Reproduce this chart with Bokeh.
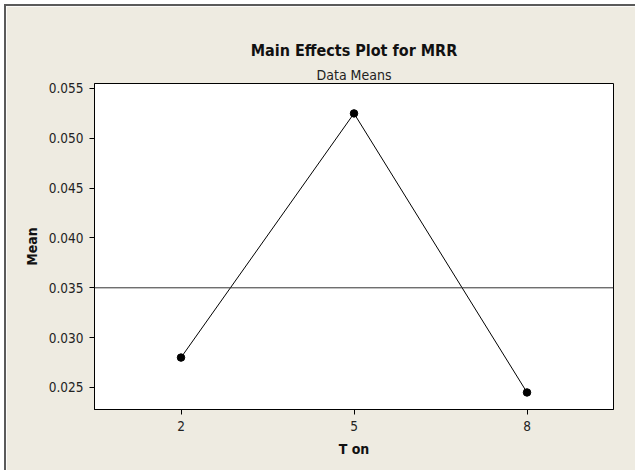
from bokeh.plotting import figure
from bokeh.models import Span, Title, FixedTicker, Range1d
from bokeh.embed import file_html
from bokeh.resources import INLINE

# Data
levels = [2, 5, 8]
means = [0.0280, 0.0525, 0.0245]
grand_mean = 0.035
y_ticks = [0.025, 0.030, 0.035, 0.040, 0.045, 0.050, 0.055]
x_ticks = [2, 5, 8]
title_text = "Main Effects Plot for MRR"
subtitle_text = "Data Means"
x_label = "T on"
y_label = "Mean"

FONT = "DejaVu Sans Condensed"
BG = "#EEEBE1"

p = figure(width=631, height=466,
           x_range=Range1d(0.5, 9.5), y_range=Range1d(0.02279, 0.0555),
           output_backend="svg", toolbar_location=None, title=None,
           min_border_left=88, min_border_top=77, min_border_right=24,
           min_border_bottom=63,
           background_fill_color="white", border_fill_color=BG,
           margin=(4, 0, 0, 4),
           styles={"border-top": "2px solid #5a5a5a",
                   "border-left": "2px solid #5a5a5a"})

p.xgrid.visible = False
p.ygrid.visible = False
p.outline_line_color = "black"
p.outline_line_width = 1

sub = Title(text=subtitle_text, align="center", text_font=FONT,
            text_font_size="14px", text_font_style="normal",
            text_color="#222222", standoff=2)
main = Title(text=title_text, align="center", text_font=FONT,
             text_font_size="16px", text_font_style="bold",
             text_color="#111111", standoff=7)
p.add_layout(sub, "above")
p.add_layout(main, "above")

for ax in (p.xaxis[0], p.yaxis[0]):
    ax.major_tick_in = 0
    ax.major_tick_out = 5
    ax.minor_tick_line_color = None
    ax.axis_line_color = "black"
    ax.major_tick_line_color = "black"
    ax.major_label_text_font = FONT
    ax.major_label_text_font_size = "13.5px"
    ax.major_label_text_color = "#222222"
    ax.axis_label_text_font = FONT
    ax.axis_label_text_font_size = "14px"
    ax.axis_label_text_font_style = "bold"
    ax.axis_label_text_color = "#111111"

p.xaxis.ticker = FixedTicker(ticks=x_ticks)
p.yaxis.ticker = FixedTicker(ticks=y_ticks)
p.yaxis.major_label_overrides = {t: f"{t:.3f}" for t in y_ticks}
p.xaxis.axis_label = x_label
p.yaxis.axis_label = y_label
p.xaxis.major_label_standoff = 6
p.yaxis.major_label_standoff = 6
p.xaxis.axis_label_standoff = 7
p.yaxis.axis_label_standoff = 6

p.add_layout(Span(location=grand_mean, dimension="width",
                  line_color="#333333", line_width=1))

p.line(levels, means, line_color="black", line_width=1)
p.scatter(levels, means, size=7.5, fill_color="black", line_color="black")

open("out.html", "w").write(file_html(p, INLINE))
